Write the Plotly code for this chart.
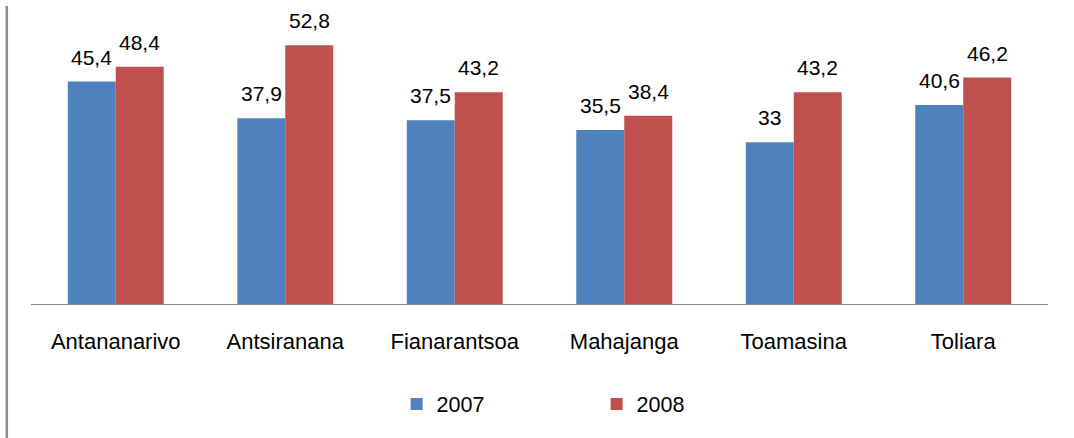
import plotly.graph_objects as go

categories = ["Antananarivo", "Antsiranana", "Fianarantsoa", "Mahajanga", "Toamasina", "Toliara"]
values_2007 = [45.4, 37.9, 37.5, 35.5, 33, 40.6]
values_2008 = [48.4, 52.8, 43.2, 38.4, 43.2, 46.2]
series_names = ["2007", "2008"]
colors = ["#4F81BD", "#C0504D"]

FONT = "Liberation Sans, Arial, sans-serif"

def fmt(v):
    s = ("%g" % v)
    return s.replace(".", ",")

fig = go.Figure()
for name, vals, col in zip(series_names, [values_2007, values_2008], colors):
    fig.add_trace(go.Bar(name=name, x=categories, y=vals, marker=dict(color=col, line=dict(width=0)),
                         hoverinfo="x+y"))

annotations = []
for vals, shift in [(values_2007, -24), (values_2008, 24)]:
    for c, v in zip(categories, vals):
        annotations.append(dict(x=c, y=v, xref="x", yref="y", text=fmt(v), showarrow=False,
                                xshift=shift, yshift=11, yanchor="bottom", xanchor="center",
                                font=dict(family=FONT, size=21, color="#000000")))

fig.update_layout(
    width=1074, height=438,
    margin=dict(l=31, r=26, t=10, b=134),
    paper_bgcolor="white", plot_bgcolor="white",
    barmode="group", bargap=0.434, bargroupgap=0,
    font=dict(family=FONT, size=22, color="#000000"),
    showlegend=True,
    legend=dict(orientation="h", x=0.3595, xanchor="left", y=-0.34, yanchor="middle",
                font=dict(family=FONT, size=21.5, color="#000000"),
                entrywidth=155, entrywidthmode="pixels", itemclick=False, bgcolor="rgba(0,0,0,0)"),
    annotations=annotations,
    shapes=[dict(type="line", xref="paper", yref="paper", x0=-0.0238, x1=-0.0238, y0=-0.46, y1=1.014,
                 line=dict(color="#8C8C8C", width=2.5))],
)
fig.update_xaxes(showline=True, linecolor="#868686", linewidth=1.3, showgrid=False, ticks="",
                 ticklabelstandoff=17, tickfont=dict(family=FONT, size=22, color="#000000"))
fig.update_yaxes(range=[0, 60], visible=False, showgrid=False, zeroline=False)

fig.write_html("out.html", config={"displayModeBar": False},
               post_script="document.body.style.margin='0';document.body.style.overflow='hidden';")
